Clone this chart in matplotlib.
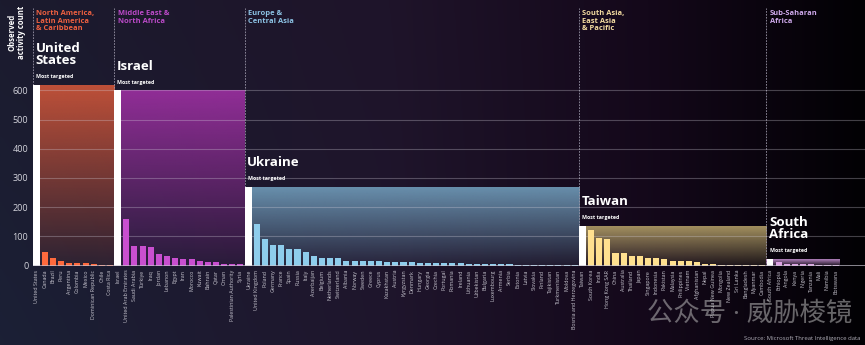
import matplotlib.pyplot as plt
import matplotlib.colors as mcolors
import numpy as np

plt.rcParams['font.family'] = ['Open Sans', 'Noto Sans CJK SC', 'DejaVu Sans']

# regions, top country first in each list
region_names = ['North America,\nLatin America\n& Caribbean', 'Middle East &\nNorth Africa',
                'Europe &\nCentral Asia', 'South Asia,\nEast Asia\n& Pacific', 'Sub-Saharan\nAfrica']
top_labels = ['United\nStates', 'Israel', 'Ukraine', 'Taiwan', 'South\nAfrica']

americas = ['United States', 'Canada', 'Brazil', 'Peru', 'Argentina', 'Colombia', 'Mexico',
            'Dominican Republic', 'Chile', 'Costa Rica']
americas_vals = [620, 45, 25, 15, 10, 8, 8, 5, 3, 2]

mideast = ['Israel', 'United Arab Emirates', 'Saudi Arabia', 'Türkiye', 'Iraq', 'Jordan', 'Lebanon',
           'Egypt', 'Iran', 'Morocco', 'Kuwait', 'Bahrain', 'Qatar', 'Oman', 'Palestinian Authority', 'Syria']
mideast_vals = [600, 160, 67, 67, 62, 38, 32, 26, 22, 22, 14, 11, 11, 6, 6, 6]

europe = ['Ukraine', 'United Kingdom', 'Poland', 'Germany', 'France', 'Spain', 'Russia', 'Italy',
          'Azerbaijan', 'Belgium', 'Netherlands', 'Switzerland', 'Albania', 'Norway', 'Sweden', 'Greece',
          'Cyprus', 'Kazakhstan', 'Austria', 'Kyrgyzstan', 'Denmark', 'Hungary', 'Georgia', 'Czechia',
          'Portugal', 'Romania', 'Ireland', 'Lithuania', 'Uzbekistan', 'Bulgaria', 'Luxembourg', 'Armenia',
          'Serbia', 'Estonia', 'Latvia', 'Slovakia', 'Finland', 'Tajikistan', 'Turkmenistan', 'Moldova',
          'Bosnia and Herzegovina']
europe_vals = [270, 141, 92, 70, 70, 57, 57, 48, 32, 25, 25, 25, 17, 17, 17, 15,
               15, 13, 13, 11, 11, 9, 9, 8, 8, 7, 7, 6, 6, 5, 5, 4,
               4, 3, 3, 3, 2, 2, 2, 1, 1]

asia = ['Taiwan', 'South Korea', 'India', 'Hong Kong SAR', 'China', 'Australia', 'Thailand', 'Japan',
        'Singapore', 'Indonesia', 'Pakistan', 'Malaysia', 'Philippines', 'Vietnam', 'Afghanistan', 'Nepal',
        'Papua New Guinea', 'Mongolia', 'New Zealand', 'Sri Lanka', 'Bangladesh', 'Myanmar', 'Cambodia']
asia_vals = [137, 122, 96, 90, 44, 42, 32, 32, 27, 26, 21, 17, 17, 17, 12, 4,
             4, 3, 3, 3, 2, 2, 1]

africa = ['South Africa', 'Ethiopia', 'Angola', 'Kenya', 'Nigeria', 'Tanzania', 'Mali', 'Namibia', 'Botswana']
africa_vals = [23, 12, 6, 6, 5, 4, 2, 2, 1]

groups = [(americas, americas_vals), (mideast, mideast_vals), (europe, europe_vals),
          (asia, asia_vals), (africa, africa_vals)]
bar_colors = ['#ff6a3d', '#c94fd0', '#8ecdec', '#ffe08f', '#dda2e4']
rect_colors = ['#cc553a', '#9b30a0', '#6f9ab8', '#b09c66', '#c08ccc']
text_colors = ['#ee6040', '#bb4ac8', '#8cc2e4', '#f2daa0', '#cda8ea']

fig = plt.figure(figsize=(8.65, 3.45), dpi=100)

# background gradient
bg = fig.add_axes([0, 0, 1, 1], zorder=0)
stops = [(0.0, (27, 27, 46)), (0.45, (31, 20, 42)), (0.75, (20, 8, 26)), (1.0, (2, 1, 4))]
xs = np.linspace(0, 1, 400)
row = np.array([[np.interp(x, [s[0] for s in stops], [s[1][c] for s in stops]) for c in range(3)] for x in xs]) / 255
img = np.repeat(row[None, :, :], 50, axis=0)
# a touch of blue in the lower left
yy = np.linspace(0, 1, 50)[:, None]
img[:, :, 2] += 0.03 * yy * (1 - xs[None, :]) ** 2
img[:, :, 1] += 0.02 * yy * (1 - xs[None, :]) ** 2
bg.imshow(np.clip(img, 0, 1), extent=(0, 1, 0, 1), aspect='auto', origin='upper')
bg.axis('off')

ax = fig.add_axes([0.0376, 0.2304, 0.9624, 0.761], zorder=1)
ax.patch.set_alpha(0)

xmin, xmax = -0.5, 101.6
ymax = 900

all_names = []
start = 0
for i, (names, vals) in enumerate(groups):
    n = len(names)
    x0 = start - 0.5
    x1 = start + n - 0.5
    top = vals[0]
    # region divider
    ax.plot([x0, x0], [0, 882], color='#9a96a8', lw=0.6, ls=(0, (2, 1.5)), zorder=1)
    # gradient block
    rgb = mcolors.to_rgb(rect_colors[i])
    block = np.zeros((256, 1, 4))
    block[..., :3] = rgb
    block[:, 0, 3] = np.linspace(0.1, 0.92, 256)
    ax.imshow(block, extent=(x0, x1, 0, top), origin='lower', aspect='auto',
              interpolation='bilinear', zorder=1)
    # bars
    xpos = np.arange(start, start + n)
    ax.bar(xpos[0] - 0.05, top, width=0.85, color='white', zorder=4)
    ax.bar(xpos[1:], vals[1:], width=0.74, color=bar_colors[i], zorder=4)
    # labels
    ax.text(x0 + 0.45, 876, region_names[i], color=text_colors[i], fontsize=5.4,
            fontweight='bold', va='top', ha='left', linespacing=1.15, zorder=5)
    ax.annotate('Most targeted', (x0 + 0.4, top), xytext=(0, 4), textcoords='offset points',
                color='white', fontsize=3.8, fontweight='bold', va='bottom', ha='left', zorder=5)
    ax.annotate(top_labels[i], (x0 + 0.35, top), xytext=(0, 12.5), textcoords='offset points',
                color='white', fontsize=9.5, fontweight='bold', va='bottom', ha='left',
                linespacing=0.9, zorder=5)
    all_names += names
    start += n

# grid lines
ax.hlines([100, 200, 300, 400, 500, 600], xmin, xmax, color='#d8d4e0', alpha=0.3, lw=0.8, zorder=2)
ax.hlines(0, xmin, xmax, color='#c8c4d0', alpha=0.8, lw=1.2, zorder=5)

ax.set_xlim(xmin, xmax)
ax.set_ylim(0, ymax)
ax.set_yticks([0, 100, 200, 300, 400, 500, 600])
ax.tick_params(axis='y', length=0, labelsize=6.5, labelcolor='#d4d4dc', pad=3)
ax.set_xticks(np.arange(len(all_names)))
ax.set_xticklabels(all_names, rotation=90, fontsize=3.8, color='#c8c6d0')
ax.tick_params(axis='x', length=0, pad=3)
for s in ax.spines.values():
    s.set_visible(False)

fig.text(0.019, 0.905, 'Observed\nactivity count', rotation=90, ha='center', va='center',
         fontsize=5.6, color='white', linespacing=1.1, fontweight='bold')
fig.text(0.995, 0.012, 'Source: Microsoft Threat Intelligence data', ha='right', va='bottom',
         fontsize=4.3, color='#b0aeb8')
fig.text(0.867, 0.09, '公众号 · 威胁棱镜', ha='center', va='center', fontsize=19,
         color='#c8c8c8', alpha=0.5, zorder=6)

fig.savefig('out.png', dpi=100)
